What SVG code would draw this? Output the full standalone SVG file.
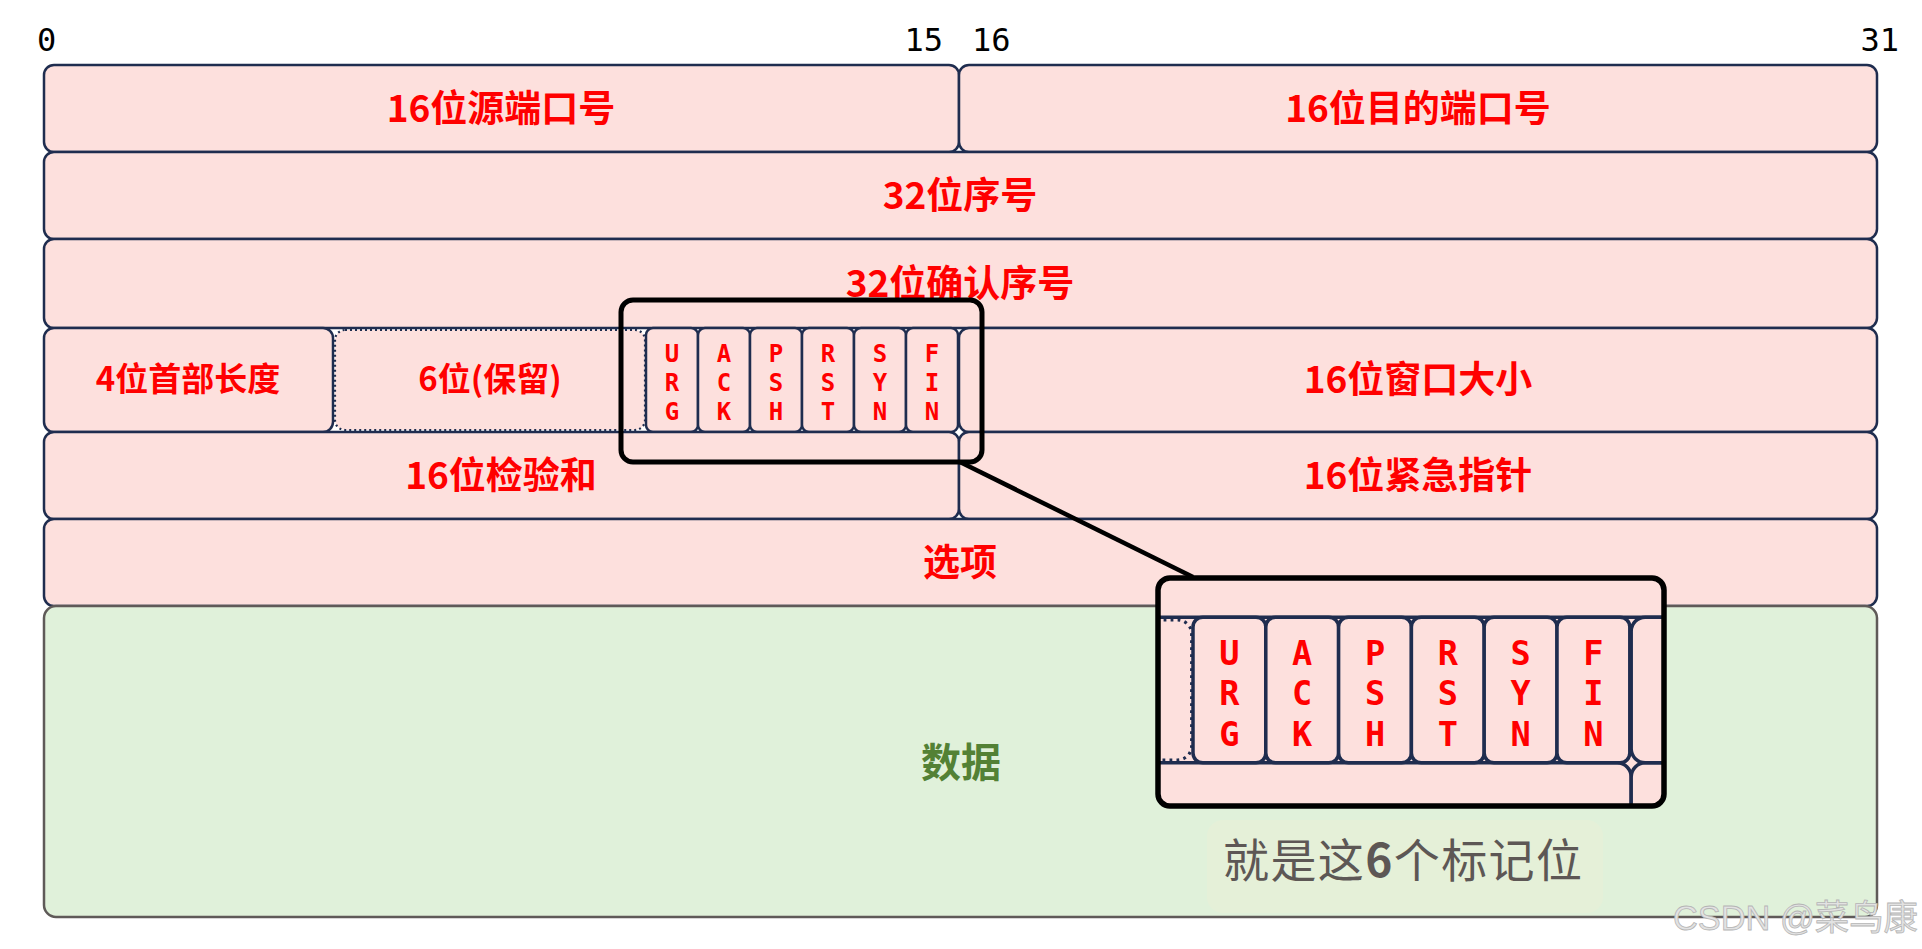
<svg xmlns="http://www.w3.org/2000/svg" width="1922" height="949" viewBox="0 0 1922 949">
<style>
.cell{fill:#fde0dd;stroke:#1f2d4f;stroke-width:2.5}
.dot{fill:#fde0dd;stroke:#1f2d4f;stroke-width:2.2;stroke-dasharray:2 3}
.lbl{font-family:"Noto Sans CJK SC","Liberation Sans",sans-serif;font-weight:bold;font-size:37px;fill:#ff0000;text-anchor:middle}
.sm{font-size:33px}
.flag{font-family:"DejaVu Sans Mono","Liberation Mono",monospace;font-weight:bold;font-size:24px;fill:#ff0000;text-anchor:middle}
.num{font-family:"DejaVu Sans Mono","Liberation Mono",monospace;font-size:32px;fill:#000}
</style>
<defs>
<clipPath id="cclip"><rect x="1158" y="578" width="506" height="228" rx="12"/></clipPath>
</defs>
<rect width="1922" height="949" fill="#ffffff"/>

<g id="bit-labels">
<text class="num" x="37" y="51">0</text>
<text class="num" x="943" y="51" text-anchor="end">15</text>
<text class="num" x="972" y="51">16</text>
<text class="num" x="1899" y="51" text-anchor="end">31</text>
</g>

<g id="src-port"><rect class="cell" x="44" y="65" width="915" height="87" rx="10"/><text class="lbl" x="501" y="122">16位源端口号</text></g>
<g id="dst-port"><rect class="cell" x="959" y="65" width="918" height="87" rx="10"/><text class="lbl" x="1418" y="122">16位目的端口号</text></g>
<g id="seq"><rect class="cell" x="44" y="152" width="1833" height="87" rx="10"/><text class="lbl" x="960" y="209">32位序号</text></g>
<g id="ack-num"><rect class="cell" x="44" y="239" width="1833" height="89" rx="10"/><text class="lbl" x="960" y="297">32位确认序号</text></g>
<g id="hdr-len"><rect class="cell" x="44" y="328" width="289" height="104" rx="10"/><text class="lbl sm" x="188" y="391">4位首部长度</text></g>
<g id="reserved"><rect class="dot" x="335" y="330" width="310" height="100" rx="10"/><text class="lbl sm" x="490" y="391">6位(保留)</text></g>
<g id="flag-urg"><rect class="cell" x="646" y="328" width="52" height="104" rx="7"/><text class="flag"><tspan x="672" y="362">U</tspan><tspan x="672" y="391">R</tspan><tspan x="672" y="420">G</tspan></text></g>
<g id="flag-ack"><rect class="cell" x="698" y="328" width="52" height="104" rx="7"/><text class="flag"><tspan x="724" y="362">A</tspan><tspan x="724" y="391">C</tspan><tspan x="724" y="420">K</tspan></text></g>
<g id="flag-psh"><rect class="cell" x="750" y="328" width="52" height="104" rx="7"/><text class="flag"><tspan x="776" y="362">P</tspan><tspan x="776" y="391">S</tspan><tspan x="776" y="420">H</tspan></text></g>
<g id="flag-rst"><rect class="cell" x="802" y="328" width="52" height="104" rx="7"/><text class="flag"><tspan x="828" y="362">R</tspan><tspan x="828" y="391">S</tspan><tspan x="828" y="420">T</tspan></text></g>
<g id="flag-syn"><rect class="cell" x="854" y="328" width="52" height="104" rx="7"/><text class="flag"><tspan x="880" y="362">S</tspan><tspan x="880" y="391">Y</tspan><tspan x="880" y="420">N</tspan></text></g>
<g id="flag-fin"><rect class="cell" x="906" y="328" width="52" height="104" rx="7"/><text class="flag"><tspan x="932" y="362">F</tspan><tspan x="932" y="391">I</tspan><tspan x="932" y="420">N</tspan></text></g>
<g id="window"><rect class="cell" x="959" y="328" width="918" height="104" rx="10"/><text class="lbl" x="1418" y="393">16位窗口大小</text></g>
<g id="checksum"><rect class="cell" x="44" y="432" width="915" height="87" rx="10"/><text class="lbl" x="501" y="489">16位检验和</text></g>
<g id="urgent"><rect class="cell" x="959" y="432" width="918" height="87" rx="10"/><text class="lbl" x="1418" y="489">16位紧急指针</text></g>
<g id="options"><rect class="cell" x="44" y="519" width="1833" height="87" rx="10"/><text class="lbl" x="960" y="576">选项</text></g>
<g id="data"><rect x="44" y="606" width="1833" height="311" rx="12" fill="#e0f1da" stroke="#5f5a58" stroke-width="2.5"/><text class="lbl" x="961" y="777" style="fill:#538135;font-size:40px">数据</text></g>

<g id="highlight"><rect x="621" y="300" width="361" height="162" rx="12" fill="none" stroke="#000" stroke-width="5"/></g>

<g id="connectors">
<line x1="960" y1="462" x2="1193" y2="577" stroke="#000" stroke-width="4.5"/>
</g>

<g id="callout">
<rect x="1158" y="578" width="506" height="228" rx="12" fill="#fde0dd"/>
<g clip-path="url(#cclip)">
<g transform="translate(1158,578) scale(1.4) translate(-621,-300)">
<rect class="cell" x="44" y="239" width="1833" height="89" rx="10"/>
<rect class="cell" x="44" y="432" width="915" height="87" rx="10"/>
<rect class="cell" x="959" y="432" width="918" height="87" rx="10"/>
<rect class="dot" x="335" y="330" width="310" height="100" rx="10"/>
<rect class="cell" x="959" y="328" width="918" height="104" rx="10"/>
<rect class="cell" x="646" y="328" width="52" height="104" rx="7"/>
<rect class="cell" x="698" y="328" width="52" height="104" rx="7"/>
<rect class="cell" x="750" y="328" width="52" height="104" rx="7"/>
<rect class="cell" x="802" y="328" width="52" height="104" rx="7"/>
<rect class="cell" x="854" y="328" width="52" height="104" rx="7"/>
<rect class="cell" x="906" y="328" width="52" height="104" rx="7"/>
<text class="flag"><tspan x="672" y="362">U</tspan><tspan x="672" y="391">R</tspan><tspan x="672" y="420">G</tspan></text>
<text class="flag"><tspan x="724" y="362">A</tspan><tspan x="724" y="391">C</tspan><tspan x="724" y="420">K</tspan></text>
<text class="flag"><tspan x="776" y="362">P</tspan><tspan x="776" y="391">S</tspan><tspan x="776" y="420">H</tspan></text>
<text class="flag"><tspan x="828" y="362">R</tspan><tspan x="828" y="391">S</tspan><tspan x="828" y="420">T</tspan></text>
<text class="flag"><tspan x="880" y="362">S</tspan><tspan x="880" y="391">Y</tspan><tspan x="880" y="420">N</tspan></text>
<text class="flag"><tspan x="932" y="362">F</tspan><tspan x="932" y="391">I</tspan><tspan x="932" y="420">N</tspan></text>
</g>
</g>
<rect x="1158" y="578" width="506" height="228" rx="12" fill="none" stroke="#000" stroke-width="5.5"/>
</g>

<g id="note">
<rect x="1207" y="820" width="396" height="93" rx="16" fill="#e5f0d8"/>
<text x="1223" y="877" font-family="Noto Sans CJK SC,sans-serif" font-size="46" textLength="359" lengthAdjust="spacing" fill="#5d5755">就是这<tspan font-weight="bold">6</tspan>个标记位</text>
</g>

<text x="1673" y="930" font-family="Liberation Sans,Noto Sans CJK SC,sans-serif" font-size="35" textLength="245" lengthAdjust="spacingAndGlyphs" fill="#e2e2e2" stroke="#b5b5b5" stroke-width="0.8">CSDN @菜鸟康</text>
</svg>
